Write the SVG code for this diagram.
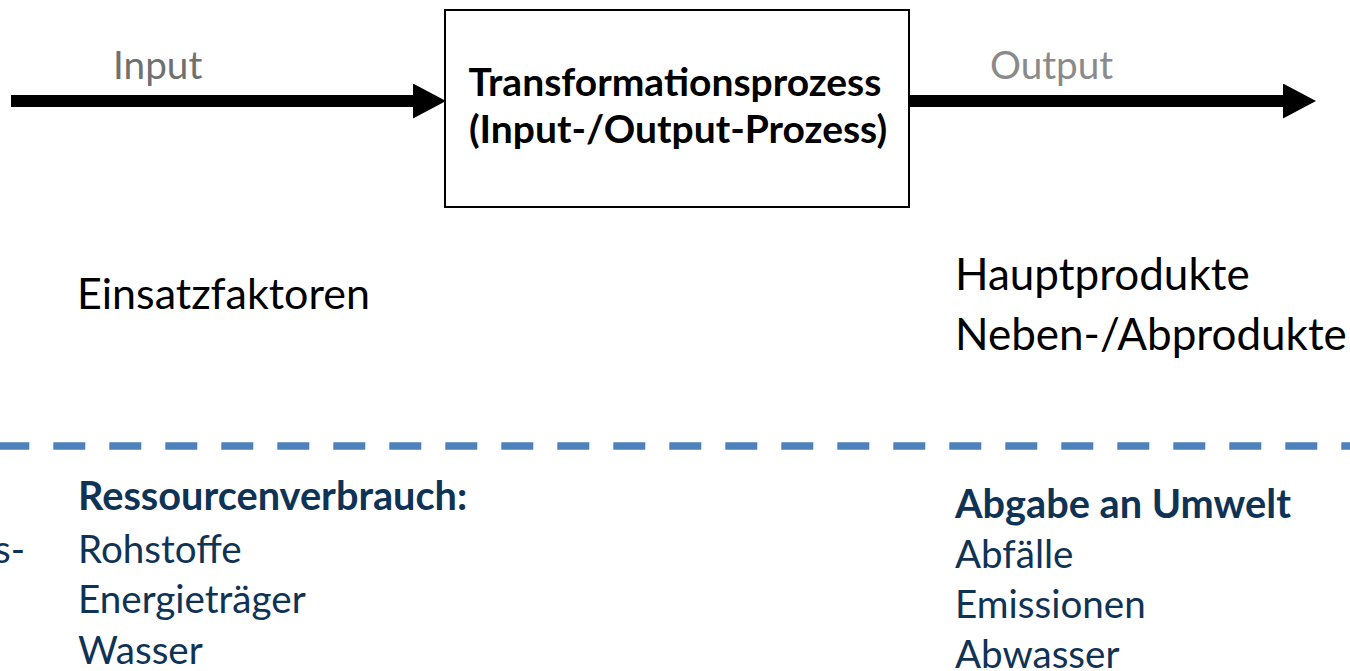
<svg xmlns="http://www.w3.org/2000/svg" width="1350" height="671" viewBox="0 0 1350 671">
  <style>
    text { font-family: Lato, "Open Sans", "Liberation Sans", sans-serif; }
    .flow { stroke: #000; stroke-width: 12; fill: none; }
    .lbl { font-size: 38.7px; }
    .box { fill: #fff; stroke: #000; stroke-width: 2; }
    .boxtxt { font-size: 39px; font-weight: bold; fill: #000; }
    .mid { font-size: 43px; fill: #000; }
    .out { font-size: 44px; }
    .list { font-size: 38.6px; fill: #0f3355; }
    .head { font-weight: bold; font-size: 39.7px; }
    .sep { stroke: #4f81bd; stroke-width: 7.5; stroke-dasharray: 32 24; stroke-dashoffset: 2.7; }
  </style>
  <defs>
    <marker id="arrow" markerUnits="userSpaceOnUse" markerWidth="34" markerHeight="36" refX="0" refY="17.5" orient="auto">
      <path d="M0,0 L33,17.5 L0,35 z" fill="#000"/>
    </marker>
  </defs>

  <!-- flow arrows -->
  <g id="connectors">
    <line class="flow" x1="11" y1="101" x2="413" y2="101" marker-end="url(#arrow)"/>
    <line class="flow" x1="909" y1="101" x2="1283" y2="101" marker-end="url(#arrow)"/>
    <text class="lbl" x="113" y="79" fill="#707070">Input</text>
    <text class="lbl" x="990" y="79" fill="#8a8a8a">Output</text>
  </g>

  <!-- central process -->
  <g id="process">
    <rect class="box" x="445" y="10" width="464" height="197"/>
    <text class="boxtxt" x="675" y="96" text-anchor="middle">Transformationsprozess</text>
    <text class="boxtxt" x="678" y="143" text-anchor="middle">(Input-/Output-Prozess)</text>
  </g>

  <g id="inputs">
    <text class="mid" x="77" y="309">Einsatzfaktoren</text>
  </g>

  <g id="outputs">
    <text class="mid out" x="955" y="290">Hauptprodukte</text>
    <text class="mid out" x="955" y="350">Neben-/Abprodukte</text>
  </g>

  <!-- boundary -->
  <line class="sep" x1="0" y1="446" x2="1350" y2="446"/>

  <g id="resources">
    <text class="list" x="-6" y="563">s-</text>
    <text class="list head" x="78" y="510">Ressourcenverbrauch:</text>
    <text class="list" x="78" y="563">Rohstoffe</text>
    <text class="list" x="78" y="613">Energieträger</text>
    <text class="list" x="78" y="664">Wasser</text>
  </g>

  <g id="emissions">
    <text class="list head" x="955" y="518">Abgabe an Umwelt</text>
    <text class="list" x="955" y="568">Abfälle</text>
    <text class="list" x="955" y="618">Emissionen</text>
    <text class="list" x="955" y="668">Abwasser</text>
  </g>
</svg>
